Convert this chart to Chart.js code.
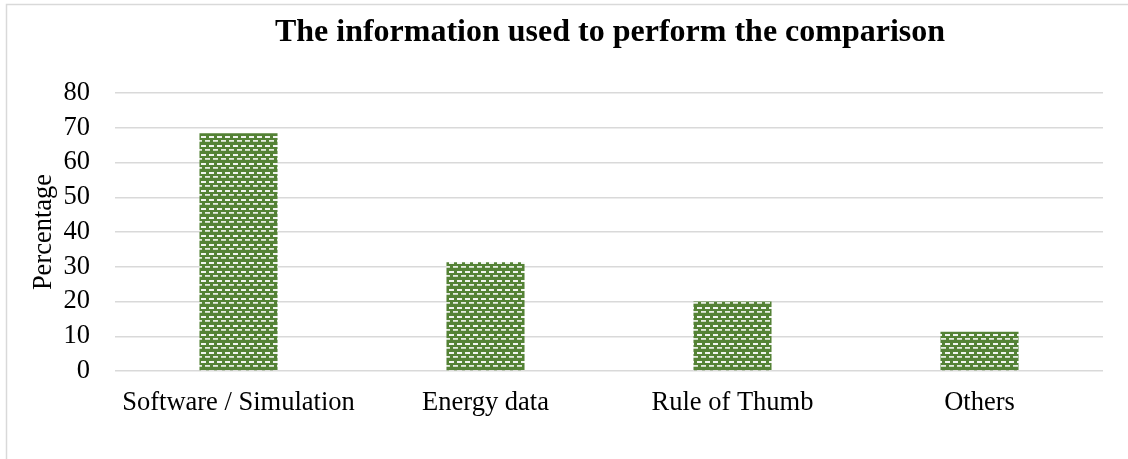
<!DOCTYPE html>
<html>
<head>
<meta charset="utf-8">
<script src="https://cdn.jsdelivr.net/npm/chart.js@4/dist/chart.umd.min.js"></script>
<style>
html,body{margin:0;padding:0;background:#fff;}
#wrap{width:1128px;height:459px;position:relative;}
</style>
</head>
<body>
<div id="wrap"><canvas id="c" width="1128" height="459"></canvas></div>
<script>
const categories = ["Software / Simulation", "Energy data", "Rule of Thumb", "Others"];
const percentages = [68.4, 31.3, 20.0, 11.3];
const yTicks = [0, 10, 20, 30, 40, 50, 60, 70, 80];
const chartTitle = "The information used to perform the comparison";
const yAxisTitle = "Percentage";

function makePattern() {
  const t = document.createElement('canvas');
  t.width = 8; t.height = 9;
  const g = t.getContext('2d');
  g.fillStyle = '#548235';
  g.fillRect(0, 0, 8, 9);
  g.fillStyle = 'rgba(255,255,255,0.92)';
  g.fillRect(1, 1, 5, 2);
  g.fillStyle = 'rgba(255,255,255,0.85)';
  g.fillRect(5, 5, 3, 1.8);
  g.fillRect(0, 5, 2, 1.8);
  return document.getElementById('c').getContext('2d').createPattern(t, 'repeat');
}

const serif = '"Liberation Serif", "Times New Roman", serif';

const decor = {
  id: 'decor',
  beforeDraw(chart) {
    const ctx = chart.ctx;
    ctx.save();
    ctx.fillStyle = '#fff';
    ctx.fillRect(0, 0, chart.width, chart.height);
    ctx.strokeStyle = '#d9d9d9';
    ctx.lineWidth = 1.5;
    ctx.strokeRect(6.5, 4.5, 1200, 600);
    ctx.restore();
  },
  afterDraw(chart) {
    const ctx = chart.ctx;
    ctx.save();
    ctx.fillStyle = '#000';
    ctx.font = 'bold 32px ' + serif;
    ctx.textAlign = 'center';
    ctx.textBaseline = 'middle';
    ctx.fillText(chartTitle, 610, 33);
    ctx.restore();
  }
};

new Chart(document.getElementById('c'), {
  type: 'bar',
  data: {
    labels: categories,
    datasets: [{
      data: percentages,
      backgroundColor: makePattern(),
      borderWidth: 0,
      categoryPercentage: 1,
      barPercentage: 0.316
    }]
  },
  options: {
    responsive: false,
    animation: false,
    devicePixelRatio: 1,
    layout: { padding: { top: 93, right: 25, bottom: 0, left: 0 } },
    plugins: { legend: { display: false }, title: { display: false }, tooltip: { enabled: false } },
    scales: {
      x: {
        grid: { display: false, drawTicks: false },
        border: { display: false },
        ticks: { color: '#000', font: { family: serif, size: 26.5 }, padding: 16, maxRotation: 0, autoSkip: false },
        afterFit(s) { s.height = 88; }
      },
      y: {
        min: 0, max: 80,
        afterBuildTicks(s) { s.ticks = yTicks.map(v => ({ value: v })); },
        grid: { color: '#d9d9d9', lineWidth: 1.5, drawTicks: false },
        border: { display: false },
        ticks: { color: '#000', font: { family: serif, size: 26.5 }, padding: 25, autoSkip: false },
        title: { display: true, text: yAxisTitle, color: '#000', font: { family: serif, size: 26.5 }, padding: { top: 28, bottom: 0 } },
        afterFit(s) { s.width = 115; }
      }
    }
  },
  plugins: [decor]
});
</script>
</body>
</html>
